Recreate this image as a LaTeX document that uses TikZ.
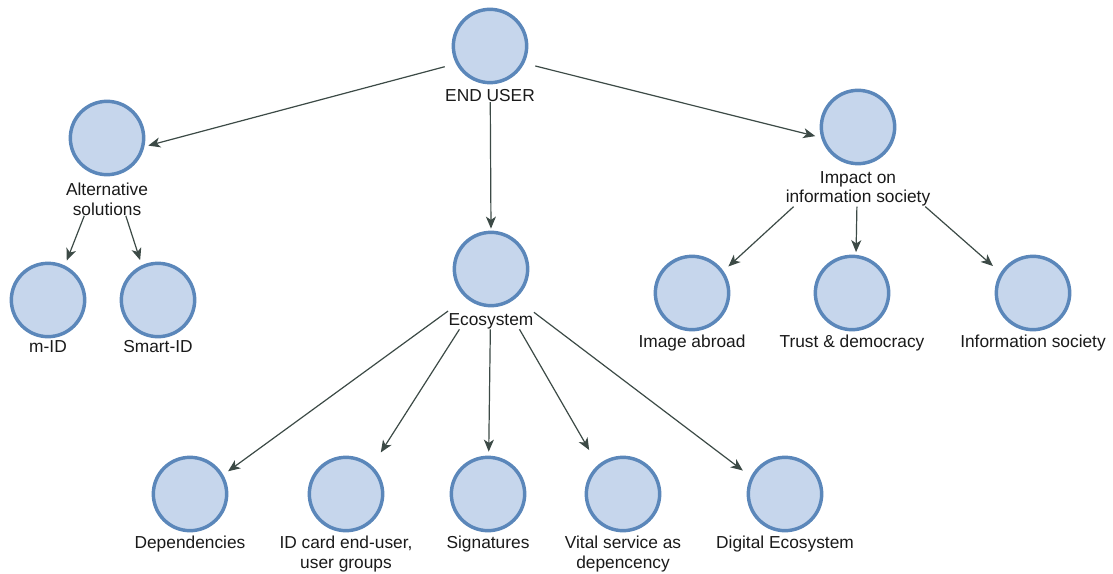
\documentclass[tikz,border=0pt]{standalone}
\usepackage{fontspec}
\setmainfont{Liberation Sans}
\usetikzlibrary{arrows.meta,fit}
\definecolor{ringc}{HTML}{5B87BA}
\definecolor{fillc}{HTML}{C6D6EC}
\definecolor{edgec}{HTML}{3C4A46}
\definecolor{txtc}{HTML}{1A1A1A}
\begin{document}
\begin{tikzpicture}[x=0.75pt,y=-0.75pt,
  bub/.style={circle,draw=ringc,fill=fillc,line width=2.6pt,minimum size=55pt,inner sep=0pt},
  lbl/.style={anchor=north,inner sep=0pt,align=center,text=txtc,font=\fontsize{13}{14.5}\selectfont},
  grp/.style={inner sep=0pt,draw=none},
  conn/.style={draw=edgec,line width=0.9pt,-{Stealth[length=9pt,width=7.5pt,inset=2.5pt]}}]
\fill[white] (0,0) rectangle (1113,574);
\useasboundingbox (0,0) rectangle (1113,574);

% nodes
\node[bub] (eu) at (490,46) {};
\node[lbl] (euL) at (490,89) {END USER};
\node[grp,fit=(eu)(euL)] (euF) {};

\node[bub] (alt) at (107,138) {};
\node[lbl] (altL) at (107,183) {Alternative\\solutions};
\node[grp,fit=(alt)(altL)] (altF) {};

\node[bub] (mid) at (48,300) {};
\node[lbl] (midL) at (48,340) {m-ID};
\node[bub] (smart) at (158,300) {};
\node[lbl] (smartL) at (158,340) {Smart-ID};

\node[bub] (eco) at (491,269) {};
\node[lbl] (ecoL) at (491,313) {Ecosystem};
\node[grp,fit=(eco)(ecoL)] (ecoF) {};

\node[bub] (imp) at (858,127) {};
\node[lbl] (impL) at (858,171) {Impact on\\information society};
\node[grp,fit=(imp)(impL)] (impF) {};

\node[bub] (img) at (692,293) {};
\node[lbl] (imgL) at (692,335) {Image abroad};
\node[bub] (trust) at (852,293) {};
\node[lbl] (trustL) at (852,335) {Trust \& democracy};
\node[bub] (info) at (1033,293) {};
\node[lbl] (infoL) at (1033,335) {Information society};

\node[bub] (dep) at (190,494) {};
\node[lbl] (depL) at (190,536) {Dependencies};
\node[bub] (id) at (346,494) {};
\node[lbl] (idL) at (346,536) {ID card end-user,\\user groups};
\node[bub] (sig) at (488,494) {};
\node[lbl] (sigL) at (488,536) {Signatures};
\node[bub] (vital) at (623,494) {};
\node[lbl] (vitalL) at (623,536) {Vital service as\\depencency};
\node[bub] (dig) at (785,494) {};
\node[lbl] (digL) at (785,536) {Digital Ecosystem};

% connectors
\draw[conn,shorten >=3pt] (euF) -- (alt.-13);
\draw[conn,shorten >=1.5pt] (euF) -- (eco.north);
\draw[conn,shorten >=4.5pt] (euF) -- (imp.196);
\draw[conn,shorten >=4pt] (altF) -- (mid.64);
\draw[conn,shorten >=4pt] (altF) -- (smart.115);
\draw[conn,shorten >=5pt] (impF) -- (img.35);
\draw[conn,shorten >=2pt] (impF) -- (trust.84);
\draw[conn,shorten >=7.5pt] (impF) -- (info.148);
\draw[conn,shorten >=4.5pt] (ecoF) -- (dep.30);
\draw[conn,shorten >=12pt] (ecoF) -- (id.47);
\draw[conn,shorten >=3pt] (ecoF) -- (sig.89);
\draw[conn,shorten >=13pt] (ecoF) -- (vital.131);
\draw[conn,shorten >=7.5pt] (ecoF) -- (dig.153);
\end{tikzpicture}
\end{document}
